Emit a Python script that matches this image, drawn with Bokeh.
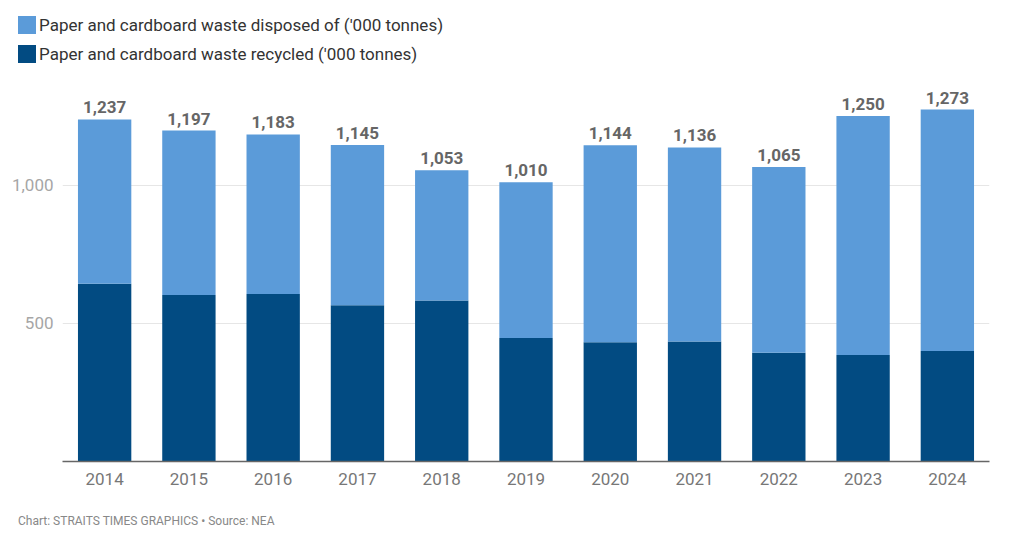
from bokeh.plotting import figure
from bokeh.layouts import column
from bokeh.models import FactorRange, Range1d, FixedTicker, NumeralTickFormatter, Div, ColumnDataSource
from bokeh.core.properties import value
from bokeh.embed import file_html
from bokeh.resources import INLINE

years = ["2014", "2015", "2016", "2017", "2018", "2019", "2020", "2021", "2022", "2023", "2024"]
totals = [1237, 1197, 1183, 1145, 1053, 1010, 1144, 1136, 1065, 1250, 1273]
recycled = [643, 602, 606, 565, 582, 447, 431, 434, 393, 385, 400]
disposed = [594, 595, 577, 580, 471, 563, 713, 702, 672, 865, 873]
y_ticks = [500, 1000]
series_names = ["Paper and cardboard waste disposed of ('000 tonnes)",
                "Paper and cardboard waste recycled ('000 tonnes)"]
source_text = "Chart: STRAITS TIMES GRAPHICS \u2022 Source: NEA"

FONT = "Roboto"
LIGHT = "#5b9bd9"
DARK = "#024b82"
W = 1016


def legend_row(top, color, label):
    return (f'<div style="position:absolute;left:18px;top:{top}px;height:18px;'
            f'line-height:18px;white-space:nowrap;">'
            f'<span style="display:inline-block;width:18px;height:18px;background:{color};'
            f'vertical-align:top;"></span>'
            f'<span style="display:inline-block;margin-left:3px;vertical-align:top;">{label}</span></div>')


legend_html = ('<div style="position:relative;width:1016px;height:72px;font-family:Roboto,sans-serif;'
               'font-size:17px;color:#333333;">'
               + legend_row(16, LIGHT, series_names[0])
               + legend_row(45, DARK, series_names[1]) + '</div>')
leg = Div(text=legend_html, width=W, height=72, margin=(0, 0, 0, 0))

# ---- main chart ----
src = ColumnDataSource(dict(years=years, recycled=recycled, disposed=disposed,
                            totals=totals, labels=[f"{v:,}" for v in totals]))

p = figure(x_range=FactorRange(factors=years, range_padding=0),
           y_range=Range1d(0, 1378),
           width=W, height=428, output_backend="svg", toolbar_location=None,
           min_border_left=62, min_border_right=27, min_border_top=8, min_border_bottom=39,
           margin=(0, 0, 0, 0))
p.outline_line_color = None
p.background_fill_color = "white"
p.border_fill_color = "white"

p.vbar_stack(["recycled", "disposed"], x="years", width=0.633, source=src,
             color=[DARK, LIGHT], line_color=None)

p.text(x="years", y="totals", text="labels", source=src, text_align="center",
       text_baseline="alphabetic", y_offset=-12, text_font=value(FONT),
       text_font_size="17px", text_font_style="bold", text_color="#666666")

p.xgrid.grid_line_color = None
p.ygrid.grid_line_color = "#e6e6e6"
p.ygrid.grid_line_width = 1.2
p.yaxis.ticker = FixedTicker(ticks=y_ticks)
p.yaxis.formatter = NumeralTickFormatter(format="0,0")
p.yaxis.axis_line_color = None
p.yaxis.major_tick_line_color = None
p.yaxis.minor_tick_line_color = None
p.yaxis.major_label_standoff = 3
p.yaxis.major_label_text_font = FONT
p.yaxis.major_label_text_font_size = "17px"
p.yaxis.major_label_text_color = "#a6a6a6"

p.xaxis.axis_line_color = "#666666"
p.xaxis.axis_line_width = 1.6
p.xaxis.major_tick_line_color = None
p.xaxis.minor_tick_line_color = None
p.xaxis.major_label_standoff = 5
p.xaxis.major_label_text_font = FONT
p.xaxis.major_label_text_font_size = "17px"
p.xaxis.major_label_text_color = "#777777"

# ---- source strip ----
foot_html = ('<div style="position:relative;width:1016px;height:38px;">'
             '<div style="position:absolute;left:18px;top:14px;font-family:Roboto,sans-serif;'
             f'font-size:12px;line-height:14px;color:#888888;white-space:nowrap;">{source_text}</div></div>')
foot = Div(text=foot_html, width=W, height=38, margin=(0, 0, 0, 0))

layout = column(leg, p, foot, spacing=0)
open("out.html", "w").write(file_html(layout, INLINE))
